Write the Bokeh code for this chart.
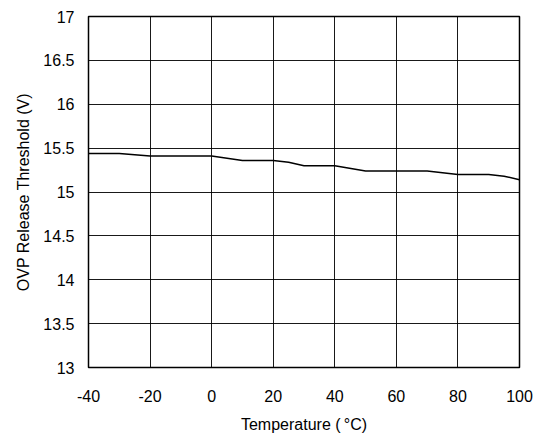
from bokeh.plotting import figure
from bokeh.embed import file_html
from bokeh.resources import INLINE
from bokeh.models import FixedTicker

temps = [-40, -30, -20, 0, 10, 20, 25, 30, 40, 50, 60, 70, 80, 90, 95, 100]
threshold = [15.44, 15.44, 15.41, 15.41, 15.36, 15.36, 15.34, 15.30, 15.30, 15.24, 15.24, 15.24, 15.20, 15.20, 15.18, 15.14]
x_ticks = [-40, -20, 0, 20, 40, 60, 80, 100]
y_ticks = [13, 13.5, 14, 14.5, 15, 15.5, 16, 16.5, 17]

p = figure(width=539, height=435, output_backend="svg", toolbar_location=None,
           x_range=(-40, 100), y_range=(13, 17),
           min_border_left=88, min_border_right=20, min_border_top=16, min_border_bottom=65)
p.line(temps, threshold, line_color="black", line_width=1.5)

p.xaxis.ticker = FixedTicker(ticks=x_ticks)
p.yaxis.ticker = FixedTicker(ticks=y_ticks)
p.xaxis.major_label_overrides = {t: str(t) for t in x_ticks}
p.yaxis.major_label_overrides = {t: ("%g" % t) for t in y_ticks}

for ax in (p.xaxis, p.yaxis):
    ax.axis_line_color = None
    ax.major_tick_line_color = None
    ax.minor_tick_line_color = None
    ax.major_label_text_font = "Liberation Sans"
    ax.major_label_text_font_size = "16px"
    ax.major_label_text_color = "black"
    ax.axis_label_text_font = "Liberation Sans"
    ax.axis_label_text_font_size = "16px"
    ax.axis_label_text_font_style = "normal"
    ax.axis_label_text_color = "black"

p.xaxis.axis_label = "Temperature (\u2009°C)"
p.yaxis.axis_label = "OVP Release Threshold (V)"
p.xaxis.major_label_standoff = 16
p.yaxis.major_label_standoff = 8
p.xaxis.axis_label_standoff = 11
p.yaxis.axis_label_standoff = 8

p.xgrid.ticker = FixedTicker(ticks=x_ticks)
p.ygrid.ticker = FixedTicker(ticks=y_ticks)
p.grid.grid_line_color = "black"
p.grid.grid_line_width = 1
p.grid.grid_line_alpha = 0.9
p.outline_line_color = "black"
p.outline_line_width = 1.5
p.background_fill_color = "white"
p.border_fill_color = "white"

open("out.html", "w").write(file_html(p, INLINE))
